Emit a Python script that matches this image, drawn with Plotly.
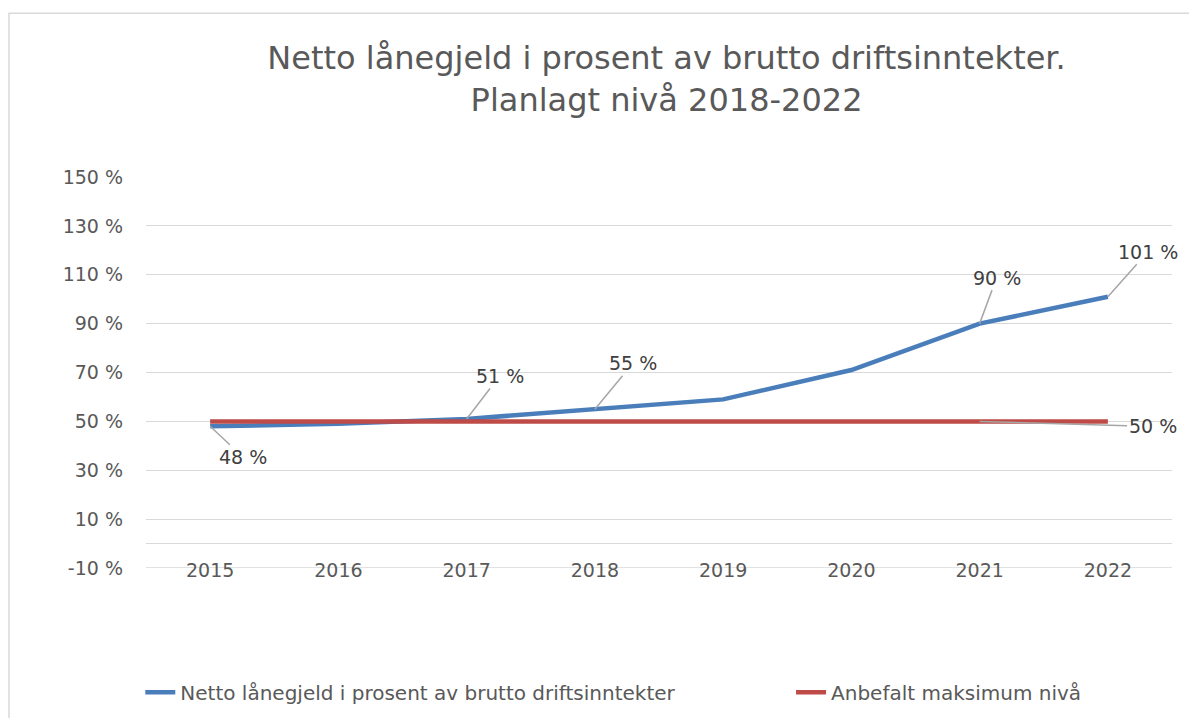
import plotly.graph_objects as go

years = ["2015", "2016", "2017", "2018", "2019", "2020", "2021", "2022"]
netto = [48, 49, 51, 55, 59, 71, 90, 101]
anbefalt = [50, 50, 50, 50, 50, 50, 50, 50]
name_netto = "Netto lånegjeld i prosent av brutto driftsinntekter"
name_anb = "Anbefalt maksimum nivå"
y_ticks = [-10, 10, 30, 50, 70, 90, 110, 130, 150]
y_ticktext = ["-10 %", "10 %", "30 %", "50 %", "70 %", "90 %", "110 %", "130 %", "150 %"]

# data labels: (category index, offset x, offset y)
labels_netto = [(0, 33, 31), (2, 33, -43), (3, 38, -46), (6, 17, -46), (7, 40, -45)]
label_anb = (6, 173, 5, 7)  # leader starts at 2021 point, shows value of 2022

FONT = "DejaVu Sans"
BLUE = "#4A7EBB"
RED = "#BE4B48"
GRID = "#D9D9D9"

fig = go.Figure()
fig.add_trace(go.Scatter(x=years, y=netto, mode="lines", name=name_netto,
                         line=dict(color=BLUE, width=4.5), legend="legend", showlegend=True))
fig.add_trace(go.Scatter(x=years, y=anbefalt, mode="lines", name=name_anb,
                         line=dict(color=RED, width=4.5), legend="legend2", showlegend=True))

ann = []
for i, ax, ay in labels_netto:
    ann.append(dict(x=i, y=netto[i], xref="x", yref="y", text=f"{netto[i]} %",
                    showarrow=True, arrowhead=0, arrowwidth=1.5, arrowcolor="#A6A6A6",
                    ax=ax, ay=ay, standoff=0,
                    font=dict(family=FONT, size=19, color="#404040")))
i, ax, ay, j = label_anb
ann.append(dict(x=i, y=anbefalt[i], xref="x", yref="y", text=f"{anbefalt[j]} %",
                showarrow=True, arrowhead=0, arrowwidth=1.5, arrowcolor="#A6A6A6",
                ax=ax, ay=ay, standoff=0,
                font=dict(family=FONT, size=19, color="#404040")))

legend_common = dict(orientation="h", xref="container", yref="container",
                     xanchor="left", y=0.036, yanchor="middle",
                     font=dict(family=FONT, size=20, color="#595959"),
                     bgcolor="rgba(0,0,0,0)", visible=True)

fig.update_layout(
    width=1189, height=718,
    showlegend=True,
    margin=dict(l=146, r=17, t=177, b=150),
    paper_bgcolor="white", plot_bgcolor="white",
    title=dict(text="Netto lånegjeld i prosent av brutto driftsinntekter.<br>Planlagt nivå 2018-2022",
               x=0.5606, xanchor="center", xref="container",
               y=0.904, yanchor="middle", yref="container",
               font=dict(family=FONT, size=32, color="#595959")),
    font=dict(family=FONT, color="#595959"),
    xaxis=dict(type="category", range=[-0.5, 7.5], showgrid=False, showline=False,
               zeroline=False, ticks="", anchor="free", position=0.029,
               tickfont=dict(family=FONT, size=19, color="#595959")),
    yaxis=dict(range=[-10, 150], tickvals=y_ticks, ticktext=y_ticktext,
               showgrid=True, gridcolor=GRID, gridwidth=1.3,
               zeroline=True, zerolinecolor=GRID, zerolinewidth=1.3,
               showline=False, ticks="", ticklabelstandoff=22,
               tickfont=dict(family=FONT, size=19, color="#595959")),
    legend=dict(x=0.118, **legend_common),
    legend2=dict(x=0.6653, **legend_common),
    annotations=ann,
    shapes=[
        dict(type="rect", xref="paper", yref="paper",
             x0=-0.1335, x1=1.027, y0=-0.413, y1=1.4188,
             line=dict(color=GRID, width=1.5), fillcolor="rgba(0,0,0,0)", layer="below"),
        # bottom gridline (edge gridline that plotly omits)
        dict(type="line", xref="paper", yref="y", x0=0, x1=1, y0=y_ticks[0], y1=y_ticks[0],
             line=dict(color=GRID, width=1.3), layer="below"),
    ],
)

fig.write_html("out.html", config={"displayModeBar": False},
               post_script="document.body.style.margin='0';")
